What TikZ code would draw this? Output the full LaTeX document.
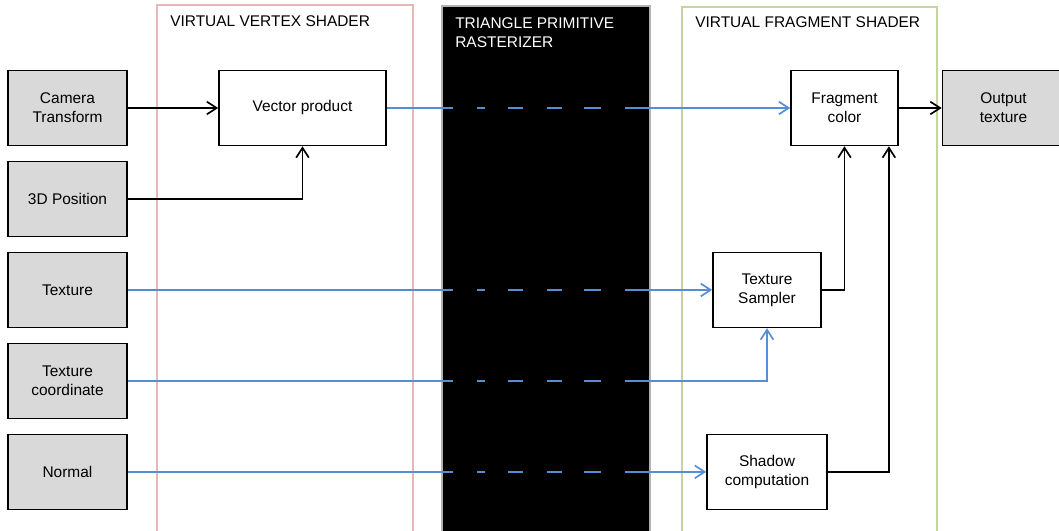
\documentclass[tikz,border=0pt]{standalone}
\usepackage{fontspec}
\setmainfont{Liberation Sans}
\usetikzlibrary{positioning,arrows.meta}
\definecolor{linkblue}{RGB}{85,142,213}
\definecolor{vspink}{RGB}{230,185,184}
\definecolor{fsgreen}{RGB}{195,214,155}
\definecolor{boxgray}{RGB}{217,217,217}

\begin{document}
\begin{tikzpicture}
        [x=0.025cm, y=-0.025cm, font=\fontsize{11}{13.5}\selectfont,
         block/.style={draw, line width=1.1pt, minimum height=1.875cm, align=center, inner sep=1pt},
         input/.style={block, fill=boxgray, minimum width=2.975cm},
         wire/.style={line width=1.2pt, -{Straight Barb[length=7pt, width=9pt]}},
         bluewire/.style={wire, linkblue},
         region/.style={line width=0.9pt},
         title/.style={anchor=north west, align=left, inner sep=0pt, font=\fontsize{11}{13.5}\selectfont},
         node distance=0.36cm]

        \clip (0,0) rectangle (1059,531);

        \draw[region, vspink] (157,5) rectangle (413,545);
        \draw[region, gray!60, fill=black] (442,6) rectangle (650,545);
        \draw[region, fsgreen] (682,7) rectangle (937,545);

        \node[title] (vs) at (170,15) {VIRTUAL VERTEX SHADER};
        \node[title, white] (tr) at (455,17) {TRIANGLE PRIMITIVE\\RASTERIZER};
        \node[title] (fs) at (695,16) {VIRTUAL FRAGMENT SHADER};

        \node[input] (cam) at (67.5,108) {Camera\\Transform};
        \node[input, below=of cam] (pos) {3D Position};
        \node[input, below=of pos] (tex) {Texture};
        \node[input, below=of tex] (tc) {Texture\\coordinate};
        \node[input, below=of tc] (nrm) {Normal};

        \coordinate (fcol) at (767,0);
        \node[block, minimum width=4.175cm] (vp) at (302.5,108) {Vector product};
        \node[block, minimum width=2.675cm] (fc) at (844.5,108) {Fragment\\color};
        \node[input, minimum width=3.05cm] (out) at (1003.5,108) {Output\\texture};
        \node[block, minimum width=2.7cm] (ts) at (fcol |- tex) {Texture\\Sampler};
        \node[block, minimum width=3cm] (sh) at (fcol |- nrm) {Shadow\\computation};

        \draw[wire] (cam) -- (vp);
        \draw[wire] (pos) -| (vp);
        \draw[wire] (fc) -- (out);
        \draw[wire] (ts) -| (fc.south);
        \draw[wire] (sh) -| ([xshift=1.11cm]fc.south);

        \draw[bluewire] (vp) -- (fc);
        \draw[bluewire] (tex) -- (ts);
        \draw[bluewire] (tc) -| (ts);
        \draw[bluewire] (nrm) -- (sh);

        % gaps through the rasterizer
        \coordinate (gap) at (453,0);
        \foreach \n in {vp,tex,tc,nrm}
          \draw[black, line width=3pt, dash pattern=on 17pt off 5.7pt on 16.3pt off 10.6pt on 17pt off 10.6pt on 16.3pt off 12pt on 17pt]
            (gap |- \n.east) -- ++(173,0);

\end{tikzpicture}
\end{document}
